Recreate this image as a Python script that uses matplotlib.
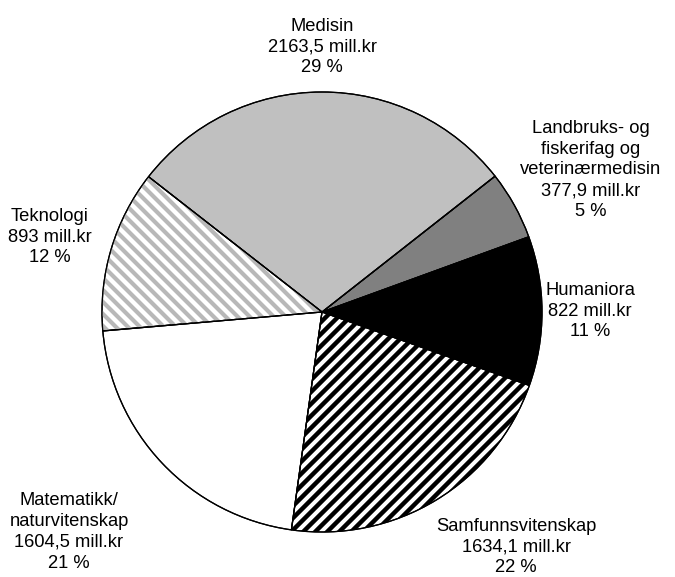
import numpy as np
import matplotlib
matplotlib.use("Agg")
import matplotlib.pyplot as plt
from matplotlib.patches import Wedge
from matplotlib.collections import LineCollection

plt.rcParams['font.family'] = ['Liberation Sans', 'DejaVu Sans']

categories = ["Humaniora", "Landbruks- og\nfiskerifag og\nveterinærmedisin", "Medisin",
              "Teknologi", "Matematikk/\nnaturvitenskap", "Samfunnsvitenskap"]
values = [822, 377.9, 2163.5, 893, 1604.5, 1634.1]
value_labels = ["822", "377,9", "2163,5", "893", "1604,5", "1634,1"]
percent_labels = ["11 %", "5 %", "29 %", "12 %", "21 %", "22 %"]

W, H = 675, 577
fig = plt.figure(figsize=(W / 100, H / 100), dpi=100)
ax = fig.add_axes([0, 0, 1, 1])

cx, cy, R = 322, H - 312, 220
face = ["black", "#808080", "#c0c0c0", "white", "white", "white"]
wedges, _ = ax.pie(values, colors=face, startangle=-19.5, counterclock=True,
                   center=(cx, cy), radius=R,
                   wedgeprops=dict(edgecolor="black", linewidth=0.9))

def stripes(wedge, sign, color, lw, step=12.0):
    segs = []
    for c in np.arange(-2 * W, 2 * W, step):
        x0, x1 = -100, W + 100
        segs.append([(x0, sign * x0 + c), (x1, sign * x1 + c)])
    lc = LineCollection(segs, colors=color, linewidths=lw, zorder=wedge.get_zorder() + 0.1)
    ax.add_collection(lc)
    lc.set_clip_path(wedge)

# Teknologi: light gray "\" stripes ; Samfunnsvitenskap: black "/" stripes
stripes(wedges[3], -1, "#b8b8b8", 3.0)
stripes(wedges[5], 1, "black", 3.2)

for w in wedges:
    ax.add_patch(Wedge(w.center, w.r, w.theta1, w.theta2, fill=False,
                       edgecolor="black", linewidth=0.9, zorder=5))

label_pos = [(590, H - 311), (591, H - 170), (322, H - 47),
             (50, H - 237), (69, H - 532), (516, H - 547)]
for cat, vl, pl, (x, y) in zip(categories, value_labels, percent_labels, label_pos):
    ax.text(x, y, f"{cat}\n{vl} mill.kr\n{pl}", ha="center", va="center",
            fontsize=13.2, linespacing=1.3, color="black")

ax.set_xlim(0, W)
ax.set_ylim(0, H)
ax.set_aspect("equal")
ax.axis("off")
fig.savefig("out.png", dpi=100)
